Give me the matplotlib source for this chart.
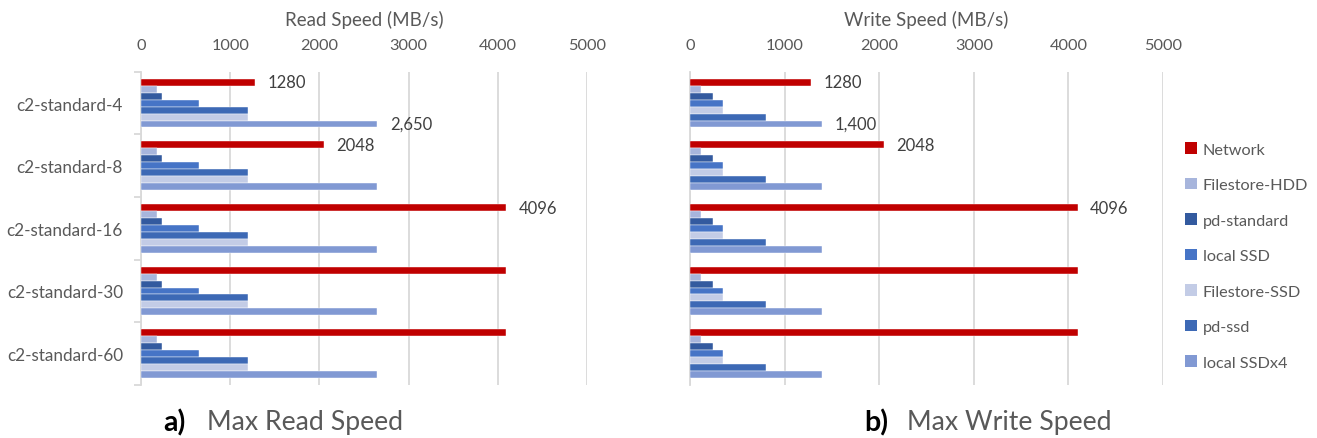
import numpy as np
import matplotlib
matplotlib.use("Agg")
import matplotlib.pyplot as plt
from matplotlib.patches import Patch

plt.rcParams['font.family'] = ['Lato', 'DejaVu Sans']

# data
machines = ['c2-standard-4', 'c2-standard-8', 'c2-standard-16', 'c2-standard-30', 'c2-standard-60']
network = [1280, 2048, 4096, 4096, 4096]

read_hdd = [180, 180, 180, 180, 180]
read_pd_std = [240, 240, 240, 240, 240]
read_local = [650, 650, 650, 650, 650]
read_fs_ssd = [1200, 1200, 1200, 1200, 1200]
read_pd_ssd = [1200, 1200, 1200, 1200, 1200]
read_ssdx4 = [2650, 2650, 2650, 2650, 2650]

write_hdd = [120, 120, 120, 120, 120]
write_pd_std = [240, 240, 240, 240, 240]
write_local = [350, 350, 350, 350, 350]
write_fs_ssd = [350, 350, 350, 350, 350]
write_pd_ssd = [800, 800, 800, 800, 800]
write_ssdx4 = [1400, 1400, 1400, 1400, 1400]

xticks = [0, 1000, 2000, 3000, 4000, 5000]

colors = {
    'Network': '#C00000',
    'Filestore-HDD': '#A7B5DC',
    'pd-standard': '#335A9F',
    'local SSD': '#4674C6',
    'Filestore-SSD': '#C3CCE6',
    'pd-ssd': '#3D69B5',
    'local SSDx4': '#8199D3',
}
legend_order = ['Network', 'Filestore-HDD', 'pd-standard', 'local SSD',
                'Filestore-SSD', 'pd-ssd', 'local SSDx4']

# top-to-bottom order of bars within a group
read_series = [('Network', network), ('Filestore-HDD', read_hdd), ('pd-standard', read_pd_std),
               ('local SSD', read_local), ('pd-ssd', read_pd_ssd),
               ('Filestore-SSD', read_fs_ssd), ('local SSDx4', read_ssdx4)]
write_series = [('Network', network), ('Filestore-HDD', write_hdd), ('pd-standard', write_pd_std),
                ('local SSD', write_local), ('Filestore-SSD', write_fs_ssd),
                ('pd-ssd', write_pd_ssd), ('local SSDx4', write_ssdx4)]

gray = '#595959'
grid = '#D9D9D9'

fig = plt.figure(figsize=(13.17, 4.39), dpi=100)
ax_r = fig.add_axes([0.1071, 0.121, 0.3386, 0.713])
ax_w = fig.add_axes([0.5239, 0.121, 0.3592, 0.713])

h = 0.111
y = np.arange(len(machines))


def draw(ax, series, title, ssd_label, show_cats):
    for j, (name, vals) in enumerate(series):
        ax.barh(y + (j - 3) * h, vals, height=h, color=colors[name],
                edgecolor='white', linewidth=0.3, zorder=3)
    # data labels: network for first three, local SSDx4 for first machine
    for i in range(3):
        ax.annotate(str(network[i]), (network[i], y[i] - 3 * h), xytext=(9, 0),
                    textcoords='offset points', va='center', ha='left',
                    fontsize=12, color='#404040')
    last = series[-1][1]
    ax.annotate(ssd_label, (last[0], y[0] + 3 * h), xytext=(9, 0),
                textcoords='offset points', va='center', ha='left',
                fontsize=12, color='#404040')
    ax.set_xlim(0, 5000)
    ax.set_ylim(len(machines) - 0.5, -0.5)
    ax.set_xticks(xticks)
    ax.xaxis.tick_top()
    ax.xaxis.set_label_position('top')
    ax.tick_params(axis='x', length=0, pad=14, labelsize=11.8, labelcolor=gray)
    ax.set_xlabel(title, fontsize=13.5, color=gray, labelpad=10)
    ax.grid(axis='x', color=grid, linewidth=1.3, zorder=0)
    for s in ['top', 'right', 'bottom']:
        ax.spines[s].set_visible(False)
    ax.spines['left'].set_color(grid)
    ax.spines['left'].set_linewidth(1.3)
    if show_cats:
        ax.set_yticks(y)
        ax.set_yticklabels(machines)
        ax.set_yticks(np.arange(len(machines) + 1) - 0.5, minor=True)
        ax.tick_params(axis='y', which='major', length=0, pad=13,
                       labelsize=12.3, labelcolor=gray)
        ax.tick_params(axis='y', which='minor', length=5, color=grid, width=1.3)
    else:
        ax.set_yticks([])


draw(ax_r, read_series, 'Read Speed (MB/s)', '2,650', True)
draw(ax_w, write_series, 'Write Speed (MB/s)', '1,400', False)

handles = [Patch(facecolor=colors[n], edgecolor='none') for n in legend_order]
fig.legend(handles, legend_order, loc='center left', bbox_to_anchor=(0.889, 0.415),
           frameon=False, fontsize=11.7, labelcolor=gray, handlelength=0.7,
           handleheight=0.7, handletextpad=0.35, labelspacing=1.3)

fig.text(0.124, 0.037, 'a)', fontsize=20.5, fontweight='bold', color='black', va='center')
fig.text(0.157, 0.037, 'Max Read Speed', fontsize=19.2, color=gray, va='center')
fig.text(0.656, 0.037, 'b)', fontsize=20.5, fontweight='bold', color='black', va='center')
fig.text(0.689, 0.037, 'Max Write Speed', fontsize=19.2, color=gray, va='center')

fig.savefig('out.png', dpi=100)
